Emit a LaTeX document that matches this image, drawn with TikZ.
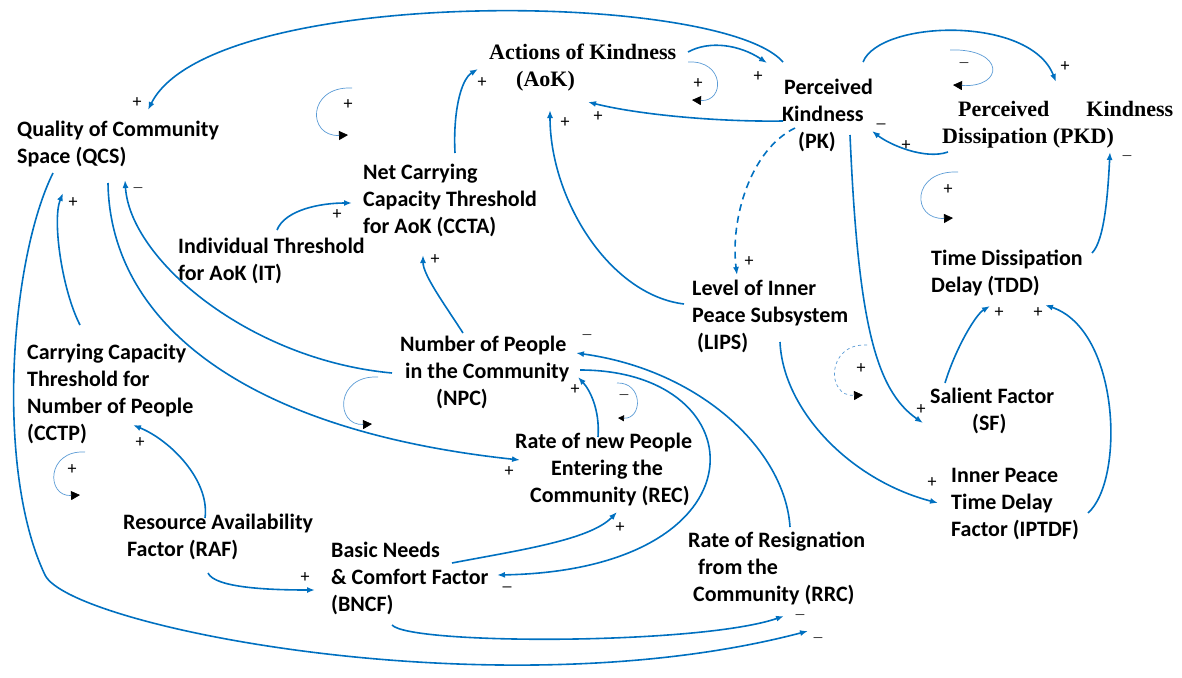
\documentclass[tikz,border=0pt]{standalone}
\usepackage{fontspec}
\setmainfont{Carlito}
\newfontfamily\tnr{Liberation Serif}
\usetikzlibrary{arrows.meta,calc}
\definecolor{linkblue}{RGB}{0,112,192}
\definecolor{loopblue}{RGB}{91,155,213}
\newcommand{\negsign}{{\fontsize{12}{12}\selectfont---}}

\begin{document}
\begin{tikzpicture}[x=1pt,y=-1pt,
	var/.style={font=\bfseries\fontsize{22}{27}\selectfont, inner sep=0pt, align=left, anchor=west},
	tvar/.style={var, font=\tnr\bfseries\fontsize{22}{27}\selectfont},
	link/.style={linkblue, line width=1.6pt, -{Latex[length=8pt,width=6pt]}},
	loopln/.style={loopblue, line width=0.7pt, -{Triangle[length=9pt,width=9pt,color=black,fill=black]}},
	pol/.style={font=\fontsize{18}{18}\selectfont, inner sep=0pt}]
	\useasboundingbox (0,0) rectangle (1182,677);

	% polarity signs
	\foreach \x/\y/\s [count=\i] in {137/103/+, 348/105/+, 482/83/+, 698/84/+, 758/77/+, 565/123/+, 598/117/+,
		1065/67/+, 964/65/\negsign, 1127/158/\negsign, 948/190/+, 906/146/+, 138/190/\negsign, 73/203/+, 337/215/+, 435/260/+,
		749/262/+, 999/313/+, 1038/313/+, 587/337/\negsign, 861/369/+, 575/390/+, 624/397/\negsign, 921/410/+,
		140/443/+, 72/470/+, 509/472/+, 932/483/+, 620/528/+, 305/578/+, 800/617/\negsign, 818/640/\negsign,
		881/124/\_, 507/587/\_}
		\node[pol] (s\i) at (\x,\y) {\s};

	% variables
	\node[var] (qcs) at (17,144) {Quality of Community\\Space (QCS)};
	\node[tvar] (aok) at (489,68) {Actions of Kindness\\\hspace*{27pt}(AoK)};
	\node[var] (pk) at (782,115) {\hspace*{2pt}Perceived\\Kindness\\\hspace*{16pt}(PK)};
	\node[tvar] (pkd) at (942,125) {\hspace*{16pt}Perceived\hspace{37pt}Kindness\\Dissipation (PKD)};
	\node[var] (ccta) at (363,200) {Net Carrying\\Capacity Threshold\\for AoK (CCTA)};
	\node[var] (it) at (178,261) {Individual Threshold\\for AoK (IT)};
	\node[var] (lips) at (692,316) {Level of Inner\\Peace Subsystem\\\hspace*{5pt}(LIPS)};
	\node[var] (tdd) at (931,273) {Time Dissipation\\Delay (TDD)};
	\node[var] (cctp) at (27,394) {Carrying Capacity\\Threshold for\\Number of People\\(CCTP)};
	\node[var] (npc) at (400,372) {Number of People\\\hspace*{5pt}in the Community\\\hspace*{36pt}(NPC)};
	\node[var] (rec) at (515,470) {Rate of new People\\\hspace*{36pt}Entering the\\\hspace*{15pt}Community (REC)};
	\node[var] (sf) at (930,411) {Salient Factor\\\hspace*{42pt}(SF)};
	\node[var] (iptdf) at (951,504) {Inner Peace\\Time Delay\\Factor (IPTDF)};
	\node[var] (raf) at (123,537) {Resource Availability\\\hspace*{4pt}Factor (RAF)};
	\node[var] (bncf) at (331,578) {Basic Needs\\\& Comfort Factor\\(BNCF)};
	\node[var] (rrc) at (688,568) {Rate of Resignation\\\hspace*{10pt}from the\\\hspace*{5pt}Community (RRC)};

	% links
	\draw[link] ($(pk.west)+(1,-53)$) .. controls (720,-10) and (210,-15) .. ($(qcs.west)+(131,-34)$);
	\draw[link] ($(aok.west)+(199,-16)$) .. controls (710,40) and (740,45) .. ($(pk.west)+(-15,-52)$);
	\draw[link] ($(pk.west)+(1,6)$) .. controls (720,122) and (640,115) .. ($(aok.west)+(99,34)$);
	\draw[link] ($(ccta.west)+(92,-47)$) .. controls (453,115) and (460,80) .. ($(aok.west)+(-11,1)$);
	\draw[link] ($(lips.west)+(-8,-12)$) .. controls (610,295) and (550,200) .. ($(aok.west)+(61,42)$);
	\draw[link, dash pattern=on 7pt off 5pt] ($(pk.west)+(13,13)$) .. controls (750,150) and (730,220) .. ($(lips.west)+(45,-41)$);
	\draw[link] ($(pkd.west)+(6,27)$) .. controls (925,160) and (890,145) .. ($(pk.west)+(90,16)$);
	\draw[link] ($(pk.west)+(81,-53)$) .. controls (880,20) and (1030,15) .. ($(pkd.west)+(114,-43)$);
	\draw[link] ($(tdd.west)+(161,-20)$) .. controls (1105,240) and (1108,190) .. ($(pkd.west)+(168,27)$);
	\draw[link] ($(pk.west)+(68,20)$) .. controls (858,320) and (875,390) .. ($(sf.west)+(-7,12)$);
	\draw[link] ($(sf.west)+(15,-28)$) .. controls (955,350) and (975,315) .. ($(tdd.west)+(59,33)$);
	\draw[link] ($(iptdf.west)+(137,9)$) .. controls (1125,480) and (1120,330) .. ($(tdd.west)+(114,32)$);
	\draw[link] ($(lips.west)+(88,26)$) .. controls (783,410) and (850,480) .. ($(iptdf.west)+(-13,-1)$);
	\draw[link] ($(npc.west)+(63,-39)$) .. controls (445,305) and (423,275) .. ($(ccta.west)+(60,55)$);
	\draw[link] ($(it.west)+(99,-31)$) .. controls (285,210) and (320,203) .. ($(ccta.west)+(-11,3)$);
	\draw[link] ($(cctp.west)+(53,-69)$) .. controls (62,290) and (52,220) .. ($(qcs.west)+(46,49)$);
	\draw[link] ($(npc.west)+(-8,1)$) .. controls (250,360) and (130,260) .. ($(qcs.west)+(108,36)$);
	\draw[link] ($(qcs.west)+(91,39)$) .. controls (110,320) and (240,430) .. ($(rec.west)+(5,-10)$);
	\draw[link] ($(qcs.west)+(36,29)$) .. controls (10,260) and (-5,470) .. (45,575)
		.. controls (70,627) and (500,712) .. ($(rrc.west)+(120,63)$);
	\draw[link] ($(raf.west)+(82,-19)$) .. controls (210,480) and (170,440) .. ($(cctp.west)+(106,31)$);
	\draw[link] ($(raf.west)+(85,36)$) .. controls (215,588) and (270,590) .. ($(bncf.west)+(-16,12)$);
	\draw[link] ($(bncf.west)+(121,-15)$) .. controls (520,550) and (590,540) .. ($(rec.west)+(102,42)$);
	\draw[link] ($(npc.west)+(180,-2)$) .. controls (760,370) and (770,570) .. ($(bncf.west)+(166,-3)$);
	\draw[link] ($(rrc.west)+(102,-41)$) .. controls (785,450) and (700,370) .. ($(npc.west)+(176,-19)$);
	\draw[link] ($(rec.west)+(83,-33)$) .. controls (600,410) and (590,390) .. ($(npc.west)+(178,5)$);
	\draw[link] ($(bncf.west)+(61,47)$) .. controls (410,645) and (700,645) .. ($(rrc.west)+(96,48)$);

	% loop marks
	\draw[loopln] (688,62) .. controls (725,60) and (725,102) .. (692,100);
	\draw[loopln] (950,50) .. controls (1005,48) and (1005,88) .. (953,85);
	\draw[loopln] (958,172) .. controls (911,170) and (911,220) .. (953,218);
	\draw[loopln] (352,88) .. controls (307,86) and (307,137) .. (348,135);
	\draw[loopln, dashed] (867,345) .. controls (826,343) and (826,397) .. (863,395);
	\draw[loopln] (85,452) .. controls (46,450) and (46,497) .. (80,495);
	\draw[loopln] (378,377) .. controls (335,375) and (335,426) .. (372,424);
	\draw[loopln, -{Triangle[length=6pt,width=6pt,color=black,fill=black]}] (617,383) .. controls (643,382) and (643,419) .. (618,418);
\end{tikzpicture}
\end{document}
